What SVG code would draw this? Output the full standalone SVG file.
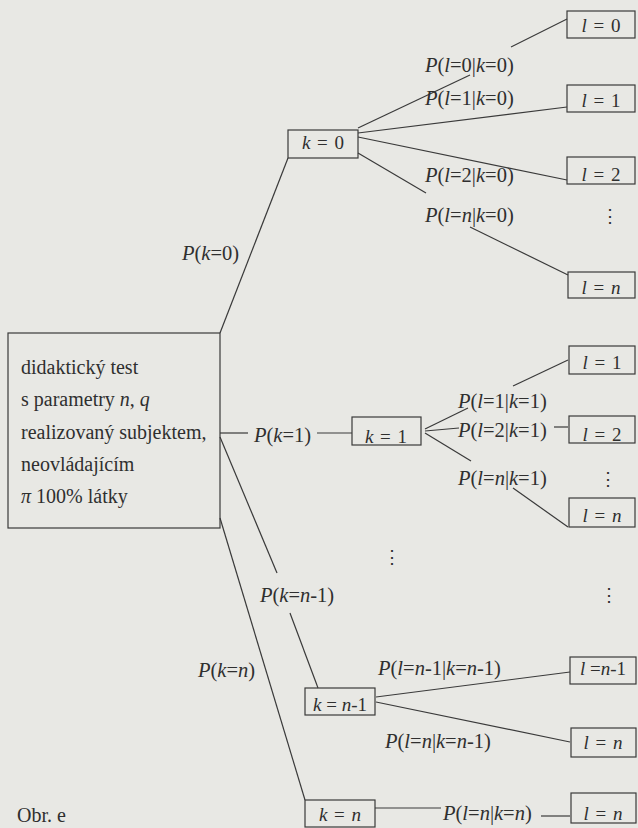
<svg xmlns="http://www.w3.org/2000/svg" width="638" height="828" viewBox="0 0 638 828">
<style>
.t{font-family:"Liberation Serif","Times New Roman",serif;fill:#2f2f2f}
.lb{font-size:20.5px}
.bt{font-size:19px;word-spacing:2px}
.mt{font-size:20px}
.i{font-style:italic}
.box{fill:none;stroke:#3a3a3a;stroke-width:1.2}
.con line{stroke:#3a3a3a;stroke-width:1.2}
.dots{font-family:"DejaVu Serif",serif;font-size:18px;fill:#2f2f2f}
</style>
<rect width="638" height="828" fill="#e8e8e4"/>

<g id="connectors" class="con">
  <line x1="220" y1="333" x2="288" y2="158"/>
  <line x1="358" y1="128" x2="470" y2="75"/>
  <line x1="511" y1="47" x2="567" y2="19"/>
  <line x1="358" y1="133" x2="567" y2="107"/>
  <line x1="358" y1="137" x2="567" y2="180"/>
  <line x1="358" y1="153" x2="426" y2="193"/>
  <line x1="470" y1="227" x2="568" y2="275"/>
  <line x1="220" y1="433" x2="248" y2="433"/>
  <line x1="317" y1="433" x2="352" y2="433"/>
  <line x1="425" y1="429" x2="468" y2="408"/>
  <line x1="513" y1="386" x2="568" y2="360"/>
  <line x1="425" y1="431" x2="459" y2="428"/>
  <line x1="554" y1="427" x2="568" y2="427"/>
  <line x1="425" y1="433" x2="471" y2="461"/>
  <line x1="513" y1="488" x2="568" y2="527"/>
  <line x1="220" y1="437" x2="277" y2="573"/>
  <line x1="290" y1="613" x2="318" y2="688"/>
  <line x1="220" y1="518" x2="305" y2="800"/>
  <line x1="376" y1="697" x2="570" y2="672"/>
  <line x1="376" y1="702" x2="570" y2="742"/>
  <line x1="375" y1="808" x2="441" y2="808"/>
  <line x1="541" y1="816" x2="570" y2="816"/>
</g>

<g id="labels" class="t lb">
  <text x="182" y="260"><tspan class="i">P</tspan>(<tspan class="i">k</tspan>=0)</text>
  <text x="254" y="442"><tspan class="i">P</tspan>(<tspan class="i">k</tspan>=1)</text>
  <text x="260" y="602"><tspan class="i">P</tspan>(<tspan class="i">k</tspan>=<tspan class="i">n</tspan>-1)</text>
  <text x="198" y="677"><tspan class="i">P</tspan>(<tspan class="i">k</tspan>=<tspan class="i">n</tspan>)</text>
  <text x="425" y="72"><tspan class="i">P</tspan>(<tspan class="i">l</tspan>=0|<tspan class="i">k</tspan>=0)</text>
  <text x="425" y="105"><tspan class="i">P</tspan>(<tspan class="i">l</tspan>=1|<tspan class="i">k</tspan>=0)</text>
  <text x="425" y="182"><tspan class="i">P</tspan>(<tspan class="i">l</tspan>=2|<tspan class="i">k</tspan>=0)</text>
  <text x="425" y="222"><tspan class="i">P</tspan>(<tspan class="i">l</tspan>=<tspan class="i">n</tspan>|<tspan class="i">k</tspan>=0)</text>
  <text x="458" y="408"><tspan class="i">P</tspan>(<tspan class="i">l</tspan>=1|<tspan class="i">k</tspan>=1)</text>
  <text x="458" y="437"><tspan class="i">P</tspan>(<tspan class="i">l</tspan>=2|<tspan class="i">k</tspan>=1)</text>
  <text x="458" y="485"><tspan class="i">P</tspan>(<tspan class="i">l</tspan>=<tspan class="i">n</tspan>|<tspan class="i">k</tspan>=1)</text>
  <text x="378" y="675"><tspan class="i">P</tspan>(<tspan class="i">l</tspan>=<tspan class="i">n</tspan>-1|<tspan class="i">k</tspan>=<tspan class="i">n</tspan>-1)</text>
  <text x="385" y="748"><tspan class="i">P</tspan>(<tspan class="i">l</tspan>=<tspan class="i">n</tspan>|<tspan class="i">k</tspan>=<tspan class="i">n</tspan>-1)</text>
  <text x="443" y="820"><tspan class="i">P</tspan>(<tspan class="i">l</tspan>=<tspan class="i">n</tspan>|<tspan class="i">k</tspan>=<tspan class="i">n</tspan>)</text>
</g>

<g id="root">
  <rect class="box" x="8" y="333" width="212" height="195"/>
  <g class="t mt">
    <text x="21" y="374">didaktický test</text>
    <text x="21" y="406">s parametry <tspan class="i">n</tspan>,  <tspan class="i">q</tspan></text>
    <text x="21" y="439">realizovaný subjektem,</text>
    <text x="21" y="471">neovládajícím</text>
    <text x="21" y="503"><tspan class="i">π</tspan>  100% látky</text>
  </g>
</g>

<g id="k0"><rect class="box" x="288" y="130" width="70" height="28"/><text class="t bt" x="323" y="149" text-anchor="middle"><tspan class="i">k</tspan> = 0</text></g>
<g id="k1"><rect class="box" x="352" y="417" width="69" height="28"/><text class="t bt" x="386" y="443" text-anchor="middle"><tspan class="i">k</tspan> = 1</text></g>
<g id="kn1"><rect class="box" x="305" y="688" width="70" height="27"/><text class="t bt" x="340" y="711" text-anchor="middle" style="word-spacing:0"><tspan class="i">k</tspan> = <tspan class="i">n</tspan>-1</text></g>
<g id="kn"><rect class="box" x="305" y="800" width="70" height="27"/><text class="t bt" x="340" y="821" text-anchor="middle"><tspan class="i">k</tspan> = <tspan class="i">n</tspan></text></g>

<g id="k0_l0"><rect class="box" x="567" y="11" width="68" height="27"/><text class="t bt" x="601" y="32" text-anchor="middle"><tspan class="i">l</tspan> = 0</text></g>
<g id="k0_l1"><rect class="box" x="567" y="85" width="68" height="27"/><text class="t bt" x="601" y="107" text-anchor="middle"><tspan class="i">l</tspan> = 1</text></g>
<g id="k0_l2"><rect class="box" x="567" y="157" width="68" height="27"/><text class="t bt" x="601" y="181" text-anchor="middle"><tspan class="i">l</tspan> = 2</text></g>
<g id="k0_ln"><rect class="box" x="568" y="272" width="67" height="26"/><text class="t bt" x="601" y="294" text-anchor="middle"><tspan class="i">l</tspan> = <tspan class="i">n</tspan></text></g>

<g id="k1_l1"><rect class="box" x="569" y="346" width="66" height="28"/><text class="t bt" x="602" y="369" text-anchor="middle"><tspan class="i">l</tspan> = 1</text></g>
<g id="k1_l2"><rect class="box" x="569" y="416" width="66" height="27"/><text class="t bt" x="602" y="441" text-anchor="middle"><tspan class="i">l</tspan> = 2</text></g>
<g id="k1_ln"><rect class="box" x="569" y="498" width="66" height="29"/><text class="t bt" x="602" y="522" text-anchor="middle"><tspan class="i">l</tspan> = <tspan class="i">n</tspan></text></g>

<g id="kn1_ln1"><rect class="box" x="570" y="657" width="66" height="27"/><text class="t bt" x="603" y="675" text-anchor="middle" style="word-spacing:0"><tspan class="i">l</tspan> =<tspan class="i">n</tspan>-1</text></g>
<g id="kn1_ln"><rect class="box" x="571" y="728" width="65" height="29"/><text class="t bt" x="603" y="749" text-anchor="middle"><tspan class="i">l</tspan> = <tspan class="i">n</tspan></text></g>
<g id="kn_ln"><rect class="box" x="571" y="793" width="65" height="30"/><text class="t bt" x="603" y="820" text-anchor="middle"><tspan class="i">l</tspan> = <tspan class="i">n</tspan></text></g>

<g id="ellipses" class="dots" text-anchor="middle">
  <text x="610" y="222">⋮</text>
  <text x="608" y="485">⋮</text>
  <text x="392" y="563">⋮</text>
  <text x="609" y="601">⋮</text>
</g>

<text class="t mt" x="17" y="822">Obr. e</text>
</svg>
